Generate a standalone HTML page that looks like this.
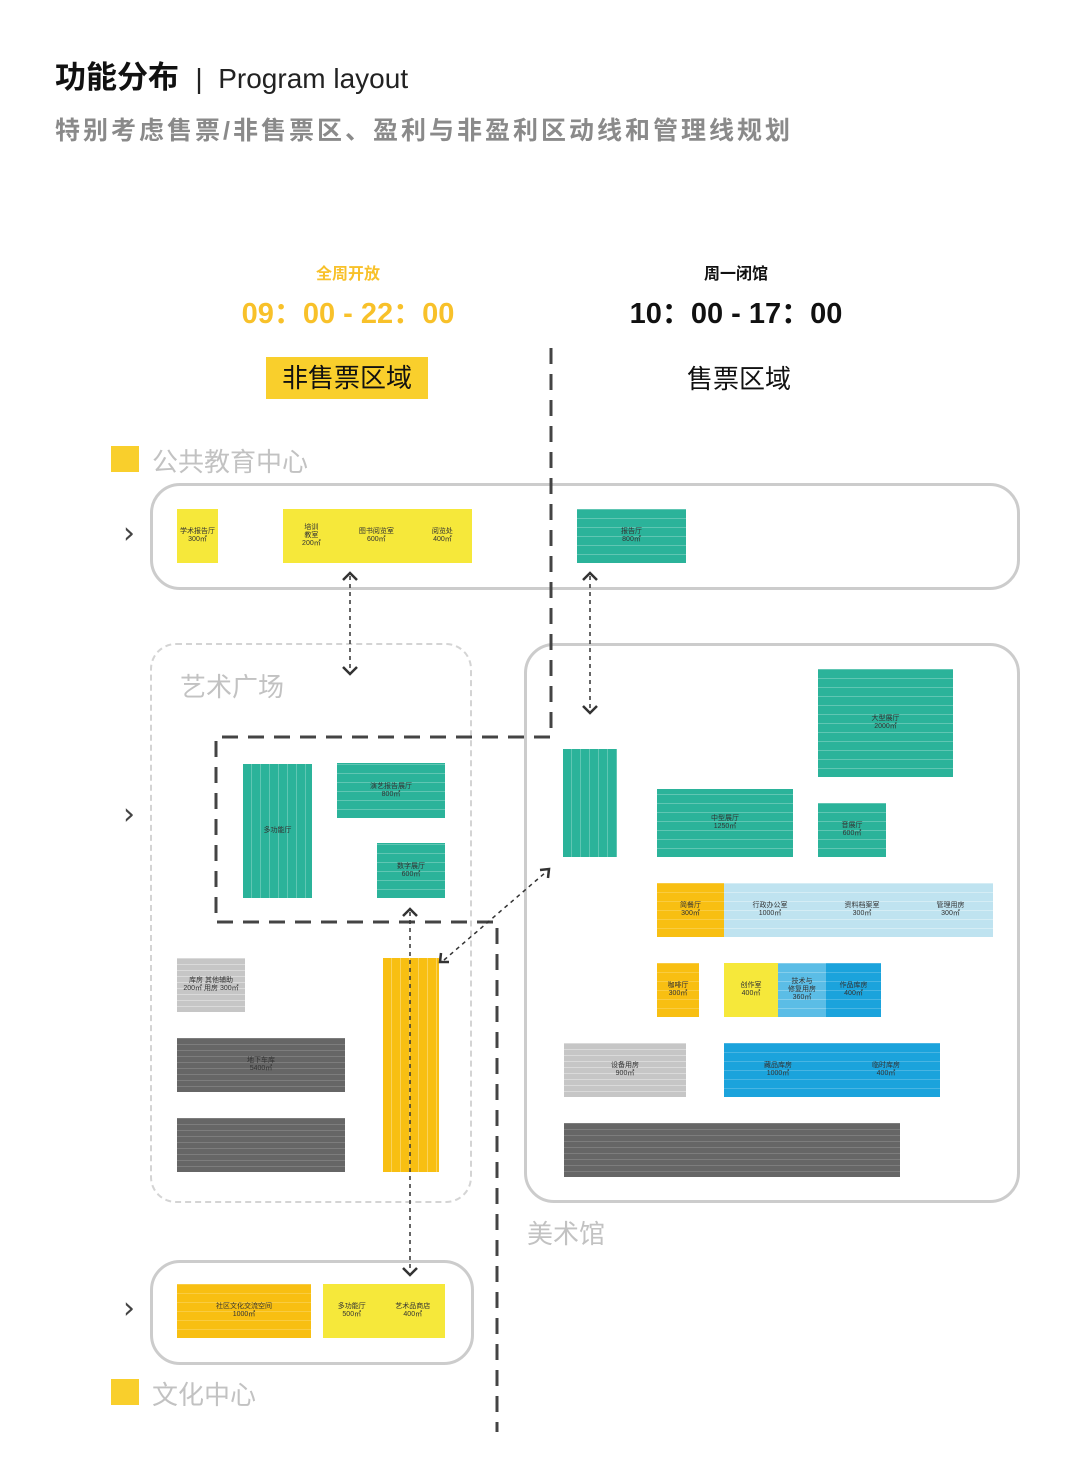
<!DOCTYPE html>
<html><head><meta charset="utf-8"><style>
*{margin:0;padding:0;box-sizing:border-box}
body{width:1080px;height:1481px;background:#fff;position:relative;overflow:hidden;font-family:"Liberation Sans","Noto Sans CJK SC",sans-serif}
.a{position:absolute}
.b{position:absolute;font-size:7px;line-height:8px;color:#333;display:flex;align-items:center;justify-content:center;text-align:center}
.y{background:#f6e83a}
.t{background:#2bb39a repeating-linear-gradient(0deg,transparent 0 8px,rgba(255,255,255,.25) 8px 9px)}
.tv{background:#2bb39a repeating-linear-gradient(90deg,transparent 0 8px,rgba(255,255,255,.25) 8px 9px)}
.o{background:#f8bf12 repeating-linear-gradient(0deg,transparent 0 8px,rgba(255,255,255,.2) 8px 9px)}
.ov{background:#f8bf12 repeating-linear-gradient(90deg,transparent 0 8px,rgba(255,255,255,.3) 8px 9px)}
.lb{background:#bfe3f0 repeating-linear-gradient(0deg,transparent 0 8px,rgba(255,255,255,.35) 8px 9px)}
.mb{background:#5bbde6 repeating-linear-gradient(0deg,transparent 0 8px,rgba(255,255,255,.25) 8px 9px)}
.db{background:#1ba3dc repeating-linear-gradient(0deg,transparent 0 8px,rgba(255,255,255,.2) 8px 9px)}
.g{background:#c6c6c6 repeating-linear-gradient(0deg,transparent 0 5px,rgba(255,255,255,.35) 5px 6px)}
.dg{background:#666 repeating-linear-gradient(0deg,transparent 0 5px,rgba(255,255,255,.15) 5px 6px)}
.lbl{position:absolute;color:#c2c2c2;font-size:26px;white-space:nowrap}
.chev{position:absolute;font-size:30px;color:#444;font-family:"DejaVu Sans",sans-serif}
</style></head><body>
<div class="a" style="left:55px;top:52px;font-size:31px;font-weight:bold;color:#111;white-space:nowrap">功能分布 <span style="font-weight:normal;font-size:28px;color:#222">&nbsp;|&nbsp; Program layout</span></div>
<div class="a" style="left:55px;top:111px;font-size:25px;letter-spacing:3px;color:#8a8a8a;white-space:nowrap;font-weight:bold">特别考虑售票/非售票区、盈利与非盈利区动线和管理线规划</div>

<div class="a" style="left:248px;width:200px;text-align:center;top:260px;font-size:16px;color:#f8c12a;font-weight:bold">全周开放</div>
<div class="a" style="left:198px;width:300px;text-align:center;top:290px;font-size:29px;color:#f8c12a;font-weight:bold">09：00 - 22：00</div>
<div class="a" style="left:636px;width:200px;text-align:center;top:260px;font-size:16px;color:#111;font-weight:bold">周一闭馆</div>
<div class="a" style="left:586px;width:300px;text-align:center;top:290px;font-size:29px;color:#111;font-weight:bold">10：00 - 17：00</div>
<div class="a" style="left:266px;top:357px;width:162px;height:42px;background:#f9cf2c;font-size:26px;line-height:42px;text-align:center;color:#111">非售票区域</div>
<div class="a" style="left:639px;width:200px;text-align:center;top:359px;font-size:26px;color:#111">售票区域</div>

<div class="a" style="left:111px;top:446px;width:28px;height:26px;background:#f9cf2c"></div>
<div class="lbl" style="left:152px;top:442px">公共教育中心</div>
<div class="a" style="left:150px;top:483px;width:870px;height:107px;border:3px solid #ccc;border-radius:30px"></div>
<div class="a" style="left:150px;top:643px;width:322px;height:560px;border:2px dashed #d4d4d4;border-radius:26px"></div>
<div class="lbl" style="left:180px;top:667px">艺术广场</div>
<div class="a" style="left:524px;top:643px;width:496px;height:560px;border:3px solid #ccc;border-radius:30px"></div>
<div class="lbl" style="left:527px;top:1214px">美术馆</div>
<div class="a" style="left:150px;top:1260px;width:324px;height:105px;border:3px solid #ccc;border-radius:30px"></div>
<div class="a" style="left:111px;top:1379px;width:28px;height:26px;background:#f9cf2c"></div>
<div class="lbl" style="left:152px;top:1375px">文化中心</div>
<div class="chev" style="left:123px;top:516px">›</div>
<div class="chev" style="left:123px;top:797px">›</div>
<div class="chev" style="left:123px;top:1291px">›</div>

<div class="b y" style="left:177px;top:509px;width:41px;height:54px">学术报告厅<br>300㎡</div>
<div class="b y" style="left:283px;top:509px;width:189px;height:54px;justify-content:space-around">培训<br>教室<br>200㎡ <span>图书阅览室<br>600㎡</span> <span>阅览处<br>400㎡</span></div>
<div class="b t" style="left:577px;top:509px;width:109px;height:54px">报告厅<br>800㎡</div>

<div class="b tv" style="left:243px;top:764px;width:69px;height:134px">多功能厅</div>
<div class="b t" style="left:337px;top:763px;width:108px;height:55px">演艺报告展厅<br>800㎡</div>
<div class="b t" style="left:377px;top:843px;width:68px;height:55px">数字展厅<br>600㎡</div>
<div class="b g" style="left:177px;top:958px;width:68px;height:54px">库房 其他辅助<br>200㎡ 用房 300㎡</div>
<div class="b dg" style="left:177px;top:1038px;width:168px;height:54px">地下车库<br>5400㎡</div>
<div class="b dg" style="left:177px;top:1118px;width:168px;height:54px"></div>
<div class="b ov" style="left:383px;top:958px;width:56px;height:214px"></div>

<div class="b t" style="left:818px;top:669px;width:135px;height:108px">大型展厅<br>2000㎡</div>
<div class="b tv" style="left:563px;top:749px;width:54px;height:108px"></div>
<div class="b t" style="left:657px;top:789px;width:136px;height:68px">中型展厅<br>1250㎡</div>
<div class="b t" style="left:818px;top:803px;width:68px;height:54px">音展厅<br>600㎡</div>
<div class="b o" style="left:657px;top:883px;width:67px;height:54px">简餐厅<br>300㎡</div>
<div class="b lb" style="left:724px;top:883px;width:269px;height:54px;justify-content:space-around">行政办公室<br>1000㎡ <span>资料档案室<br>300㎡</span><span>管理用房<br>300㎡</span></div>
<div class="b o" style="left:657px;top:963px;width:42px;height:54px">咖啡厅<br>300㎡</div>
<div class="b y" style="left:724px;top:963px;width:54px;height:54px">创作室<br>400㎡</div>
<div class="b mb" style="left:778px;top:963px;width:48px;height:54px">技术与<br>修复用房<br>360㎡</div>
<div class="b db" style="left:826px;top:963px;width:55px;height:54px">作品库房<br>400㎡</div>
<div class="b g" style="left:564px;top:1043px;width:122px;height:54px">设备用房<br>900㎡</div>
<div class="b db" style="left:724px;top:1043px;width:216px;height:54px;justify-content:space-around">藏品库房<br>1000㎡ <span>临时库房<br>400㎡</span></div>
<div class="b dg" style="left:564px;top:1123px;width:336px;height:54px"></div>

<div class="b o" style="left:177px;top:1284px;width:134px;height:54px">社区文化交流空间<br>1000㎡</div>
<div class="b y" style="left:323px;top:1284px;width:122px;height:54px;justify-content:space-around">多功能厅<br>500㎡ <span>艺术品商店<br>400㎡</span></div>

<svg class="a" style="left:0;top:0" width="1080" height="1481">
<g fill="none" stroke="#444" stroke-width="3" stroke-dasharray="16 10">
<path d="M551 348 V737 H216 V922 H497 V1432"/>
</g>
<g fill="none" stroke="#333" stroke-width="1.5" stroke-dasharray="4 4">
<path d="M350 576 V670"/><path d="M590 576 V712"/><path d="M410 912 V1272"/><path d="M444 960 L546 872"/>
</g>
<g fill="none" stroke="#333" stroke-width="2.5">
<path d="M343 580 L350 573 L357 580"/><path d="M343 667 L350 674 L357 667"/>
<path d="M583 580 L590 573 L597 580"/><path d="M583 706 L590 713 L597 706"/>
<path d="M403 916 L410 909 L417 916"/><path d="M403 1268 L410 1275 L417 1268"/>
<path d="M540 870 L549 869 L548 878"/><path d="M441 953 L440 962 L449 962"/>
</g>
</svg>
</body></html>
